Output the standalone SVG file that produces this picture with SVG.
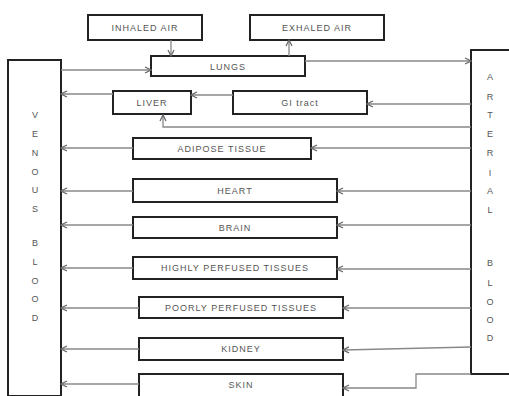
<svg xmlns="http://www.w3.org/2000/svg" width="509" height="396" viewBox="0 0 509 396">
<style>
.box{fill:#fff;stroke:#222;stroke-width:2}
.lbl{font-family:"Liberation Sans",Arial,sans-serif;font-size:9px;fill:#555;text-anchor:middle;letter-spacing:1px}
.vl{font-family:"Liberation Sans",Arial,sans-serif;font-size:9px;fill:#555;text-anchor:middle}
.c{fill:none;stroke:#888;stroke-width:1.3;marker-end:url(#ah)}
</style>
<defs>
<marker id="ah" viewBox="-7 -4 8 8" markerWidth="8" markerHeight="8" refX="0" refY="0" orient="auto" markerUnits="userSpaceOnUse">
<path d="M-6,-3 L0,0 L-6,3" fill="none" stroke="#666" stroke-width="1.2"/>
</marker>
</defs>
<rect width="509" height="396" fill="#fff"/>
<g id="venous"><rect class="box" x="8" y="60" width="53" height="336"/>
<text class="vl" x="35" y="118">V</text><text class="vl" x="35" y="137">E</text><text class="vl" x="35" y="156">N</text><text class="vl" x="35" y="175">O</text><text class="vl" x="35" y="193">U</text><text class="vl" x="35" y="212">S</text>
<text class="vl" x="35" y="246">B</text><text class="vl" x="35" y="265">L</text><text class="vl" x="35" y="284">O</text><text class="vl" x="35" y="302">O</text><text class="vl" x="35" y="321">D</text></g>
<g id="arterial"><rect class="box" x="471" y="50" width="40" height="324"/>
<text class="vl" x="490" y="80">A</text><text class="vl" x="490" y="100">R</text><text class="vl" x="490" y="118">T</text><text class="vl" x="490" y="137">E</text><text class="vl" x="490" y="156">R</text><text class="vl" x="490" y="176">I</text><text class="vl" x="490" y="194">A</text><text class="vl" x="490" y="213">L</text>
<text class="vl" x="490" y="266">B</text><text class="vl" x="490" y="286">L</text><text class="vl" x="490" y="305">O</text><text class="vl" x="490" y="323">O</text><text class="vl" x="490" y="341">D</text></g>
<g id="inhaled"><rect class="box" x="88" y="15" width="114" height="25"/><text class="lbl" x="145" y="31">INHALED AIR</text></g>
<g id="exhaled"><rect class="box" x="250" y="15" width="134" height="25"/><text class="lbl" x="317" y="31">EXHALED AIR</text></g>
<g id="lungs"><rect class="box" x="151" y="56" width="154" height="20"/><text class="lbl" x="228" y="70">LUNGS</text></g>
<g id="liver"><rect class="box" x="113" y="91" width="78" height="23"/><text class="lbl" x="152" y="106">LIVER</text></g>
<g id="gi"><rect class="box" x="233" y="91" width="134" height="23"/><text class="lbl" x="300" y="106">GI tract</text></g>
<g id="adipose"><rect class="box" x="133" y="138" width="178" height="21"/><text class="lbl" x="222" y="152">ADIPOSE TISSUE</text></g>
<g id="heart"><rect class="box" x="133" y="179" width="204" height="23"/><text class="lbl" x="235" y="194">HEART</text></g>
<g id="brain"><rect class="box" x="133" y="217" width="204" height="21"/><text class="lbl" x="235" y="231">BRAIN</text></g>
<g id="highly"><rect class="box" x="133" y="257" width="204" height="22"/><text class="lbl" x="235" y="271">HIGHLY PERFUSED TISSUES</text></g>
<g id="poorly"><rect class="box" x="139" y="297" width="204" height="21"/><text class="lbl" x="241" y="311">POORLY PERFUSED TISSUES</text></g>
<g id="kidney"><rect class="box" x="139" y="338" width="204" height="22"/><text class="lbl" x="241" y="352">KIDNEY</text></g>
<g id="skin"><rect class="box" x="139" y="374" width="204" height="30"/><text class="lbl" x="241" y="388">SKIN</text></g>
<g id="connectors">
<path class="c" d="M171,40 V56"/>
<path class="c" d="M289,56 V40"/>
<path class="c" d="M61,70 H151"/>
<path class="c" d="M305,61 H471"/>
<path class="c" d="M471,104 H367"/>
<path class="c" d="M233,95 H191"/>
<path class="c" d="M113,94 H61"/>
<path class="c" d="M471,127 H163 V115"/>
<path class="c" d="M471,148 H311"/>
<path class="c" d="M133,148 H61"/>
<path class="c" d="M471,191 H337"/>
<path class="c" d="M133,191 H61"/>
<path class="c" d="M471,225 H337"/>
<path class="c" d="M133,225 H61"/>
<path class="c" d="M471,269 H337"/>
<path class="c" d="M133,268 H61"/>
<path class="c" d="M471,308 H343"/>
<path class="c" d="M139,308 H61"/>
<path class="c" d="M471,347 L343,350"/>
<path class="c" d="M139,349 H61"/>
<path class="c" d="M471,374 H416 V388 H343"/>
<path class="c" d="M139,384 H61"/>
</g>
</svg>
